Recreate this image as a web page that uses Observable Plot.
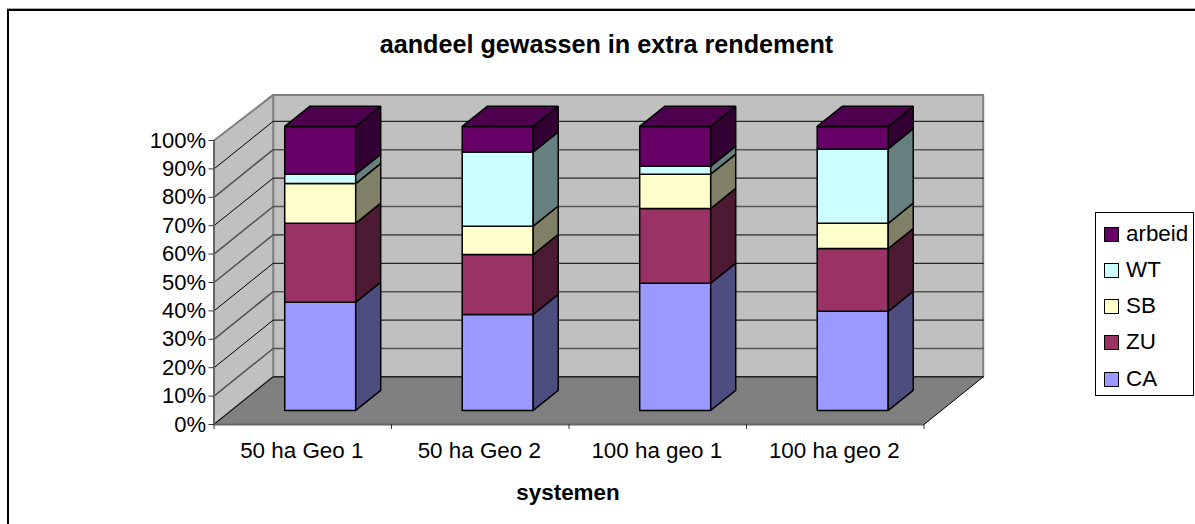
<!DOCTYPE html>
<html><head><meta charset="utf-8">
<script src="https://cdn.jsdelivr.net/npm/d3@7"></script>
<script src="https://cdn.jsdelivr.net/npm/@observablehq/plot@0.6"></script>
<style>
html,body{margin:0;padding:0;background:#fff;overflow:hidden}
#wrap{position:relative;width:1195px;height:524px;font-family:"Liberation Sans",Arial,sans-serif;color:#000}
#frame{position:absolute;left:7px;top:9px;right:-5px;bottom:-5px;border-left:2px solid #000;border-top:2px solid #000;box-shadow:0 -1px 0 #aaa}
#legend{position:absolute;left:1095px;top:212px;width:97px;height:182px;border:1px solid #000;background:#fff}
.row{position:absolute;left:8px;height:22px;display:flex;align-items:center;font-size:22.4px}
.sw{width:13px;height:13px;border:1px solid #000;margin-right:7px;box-sizing:content-box;flex:none}
svg{display:block;position:absolute;left:0;top:0}
</style></head><body><div id="wrap"><div id="frame"></div></div>
<script>
const categories = ["50 ha Geo 1","50 ha Geo 2","100 ha geo 1","100 ha geo 2"];
const series = ["CA","ZU","SB","WT","arbeid"];
const CA = [38.1,33.8,44.8,34.9];
const ZU = [27.8,21.1,26.3,22.1];
const SB = [14.0,10.0,12.1,8.9];
const WT = [3.3,26.1,2.8,26.2];
const arbeid = [16.8,9.0,14.0,7.9];
const seriesValues = [CA,ZU,SB,WT,arbeid];
const frontColors = ["#9999FF","#993366","#FFFFCC","#CCFFFF","#660066"];
const sideColors  = ["#4D4D80","#4D1A33","#808066","#668080","#330033"];
const topColor = "#4D004D";
const percentTicks = [0,10,20,30,40,50,60,70,80,90,100];
const blackGrid = [20,40,70,90];

const depthX = 59.2/177.5, depthY = 47.6/2.84;
const barFrac = 0.295, barDepth = 0.4224, barWidth = 0.4;
const wallTop = 100 + depthY - 0.7;

const faces = [];
function face(id, fill, pts){ [...pts, pts[0]].forEach(([x,y])=>faces.push({id,fill,x,y})); }
categories.forEach((c,i)=>{
  const x0 = i + 0.5 - barWidth/2 + barFrac*depthX, x1 = x0 + barWidth;
  const ox = barDepth*depthX, oy = barDepth*depthY, by = barFrac*depthY;
  let acc = 0;
  seriesValues.forEach((vals,s)=>{
    const a = acc + by, b = acc + vals[i] + by;
    face(`f${i}${s}`, frontColors[s], [[x0,a],[x1,a],[x1,b],[x0,b]]);
    face(`s${i}${s}`, sideColors[s], [[x1,a],[x1+ox,a+oy],[x1+ox,b+oy],[x1,b]]);
    acc += vals[i];
    if (s === seriesValues.length-1)
      face(`t${i}`, topColor, [[x0,b],[x1,b],[x1+ox,b+oy],[x0+ox,b+oy]]);
  });
});

const backWall = [[depthX,depthY],[4+depthX,depthY],[4+depthX,wallTop],[depthX,wallTop]];
const sideWall = [[0,0],[depthX,depthY],[depthX,wallTop],[0,100]];
const floor = [[0,0],[4,0],[4+depthX,depthY],[depthX,depthY]];
const poly = p => [...p,p[0]].map(([x,y])=>({x,y}));

const gridRows = percentTicks.slice(1,-1).concat(0).flatMap(p=>[
  {p,x:0,y:p},{p,x:depthX,y:p+depthY},{p,x:4+depthX,y:p+depthY}
]);

const font = '"Liberation Sans",Arial,sans-serif';
const chart = Plot.plot({
  width:1195,height:524,
  marginTop:140,marginBottom:100,marginLeft:213.5,marginRight:271.5,
  style:{background:"transparent",fontFamily:font,overflow:"visible"},
  x:{domain:[0,4],axis:null},
  y:{domain:[0,100],axis:null},
  color:{type:"identity"},
  marks:[
    Plot.line(poly(backWall),{x:"x",y:"y",fill:"#C0C0C0",stroke:"#808080",strokeWidth:2}),
    Plot.line(poly(sideWall),{x:"x",y:"y",fill:"#C0C0C0",stroke:"#808080",strokeWidth:2}),
    Plot.line(gridRows,{x:"x",y:"y",z:"p",stroke:d=>blackGrid.includes(d.p)?"#000":"#555",strokeWidth:d=>blackGrid.includes(d.p)?1:1.6}),
    Plot.line(poly(floor),{x:"x",y:"y",fill:"#808080",stroke:"#000",strokeWidth:1}),
    Plot.ruleY([0],{x1:0,x2:4,stroke:"#666",strokeWidth:2}),
    Plot.ruleX([0],{y1:0,y2:100,stroke:"#666",strokeWidth:2}),
    Plot.line(faces,{x:"x",y:"y",z:"id",fill:"fill",stroke:"#000",strokeWidth:1.5,strokeLinejoin:"miter"}),
    Plot.axisY({ticks:percentTicks,tickFormat:d=>d+"%",tickSize:5,tickPadding:3,fontSize:22,label:null,stroke:"#333"}),
    Plot.axisX({ticks:[0,1,2,3,4],tickSize:5,tickFormat:()=>"",label:null,stroke:"#333"}),
    Plot.text(categories,{x:(d,i)=>i+0.5,y:0,dy:26,dx:-1,text:d=>d,fontSize:22.4}),
    Plot.text(["systemen"],{x:2,y:0,dy:68,dx:-1,text:d=>d,fontSize:22.4,fontWeight:"bold"}),
    Plot.text(["aandeel gewassen in extra rendement"],{x:2.211,y:100,dy:-96,text:d=>d,fontSize:25.2,fontWeight:"bold"})
  ]
});
const wrap=document.getElementById("wrap");
wrap.appendChild(chart);
const legend=document.createElement("div");legend.id="legend";
const tops=[10,46,82,118,155];
[...series.keys()].reverse().forEach((s,k)=>{
  const r=document.createElement("div");r.className="row";r.style.top=tops[k]+"px";
  const sw=document.createElement("span");sw.className="sw";sw.style.background=frontColors[s];
  const t=document.createElement("span");t.textContent=series[s];
  r.append(sw,t);legend.appendChild(r);
});
wrap.appendChild(legend);
</script></body></html>
